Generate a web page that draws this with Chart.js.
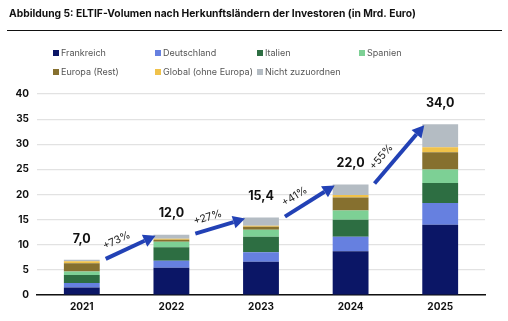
<!DOCTYPE html>
<html lang="de">
<head>
<meta charset="utf-8">
<title>ELTIF-Volumen nach Herkunftsländern</title>
<script src="https://cdn.jsdelivr.net/npm/chart.js@4.4.1/dist/chart.umd.min.js"></script>
<style>
  html, body { margin: 0; padding: 0; background: #fff; }
  #wrap { position: relative; width: 508px; height: 321px; }
  canvas { display: block; }
</style>
</head>
<body>
<div id="wrap"><canvas id="c" width="508" height="321"></canvas></div>
<script>
// Jahre und Volumen je Herkunftsland (Mrd. Euro)
const years = ['2021', '2022', '2023', '2024', '2025'];
const frankreich = [1.5, 5.4, 6.6, 8.7, 14.0];
const deutschland = [0.9, 1.4, 1.9, 2.9, 4.3];
const italien = [1.6, 2.7, 3.1, 3.4, 4.0];
const spanien = [0.7, 1.1, 1.4, 1.8, 2.7];
const europaRest = [1.6, 0.4, 0.6, 2.6, 3.4];
const globalOhneEuropa = [0.4, 0.2, 0.2, 0.5, 1.0];
const nichtZuzuordnen = [0.3, 0.8, 1.6, 2.1, 4.6];

// Summen über den Balken und Wachstum zum Vorjahr
const totals = [7.0, 12.0, 15.4, 22.0, 34.0];
const growthLabels = ['+73%', '+27%', '+41%', '+55%'];

const yTicks = [0, 5, 10, 15, 20, 25, 30, 35, 40];

const seriesNames = ['Frankreich', 'Deutschland', 'Italien', 'Spanien',
  'Europa (Rest)', 'Global (ohne Europa)', 'Nicht zuzuordnen'];
const seriesValues = [frankreich, deutschland, italien, spanien,
  europaRest, globalOhneEuropa, nichtZuzuordnen];
const seriesColors = ['#0b1666', '#6680e0', '#2d6e42', '#7dd095',
  '#86702f', '#f0c24a', '#b4bcc3'];

const FONT = 'Inter, "Liberation Sans", Arial, sans-serif';

const datasets = seriesNames.map((name, i) => ({
  label: name,
  data: seriesValues[i],
  backgroundColor: seriesColors[i],
  borderWidth: 0,
  barPercentage: 0.4,
  categoryPercentage: 1.0
}));

// Titel, Trennlinie und Legende im Raster
const headerPlugin = {
  id: 'header',
  afterDraw(chart) {
    const ctx = chart.ctx;
    ctx.save();
    ctx.fillStyle = '#111';
    ctx.font = 'bold 10.3px ' + FONT;
    ctx.textBaseline = 'middle';
    ctx.textAlign = 'left';
    ctx.fillText('Abbildung 5: ELTIF-Volumen nach Herkunftsländern der Investoren (in Mrd. Euro)', 9, 14);
    ctx.strokeStyle = '#111';
    ctx.lineWidth = 1;
    ctx.beginPath();
    ctx.moveTo(7, 30.5);
    ctx.lineTo(502, 30.5);
    ctx.stroke();

    ctx.font = '9px ' + FONT;
    const cols = [53, 155, 257, 359];
    const rows = [53, 72];
    seriesNames.forEach((name, i) => {
      const x = cols[i % 4];
      const y = rows[Math.floor(i / 4)];
      ctx.fillStyle = seriesColors[i];
      ctx.fillRect(x, y - 3, 6, 6);
      ctx.fillStyle = '#555';
      ctx.fillText(name, x + 8, y + 0.5);
    });
    ctx.restore();
  }
};

// Summenwerte und Wachstumspfeile zwischen den Balken
const annotationPlugin = {
  id: 'annotations',
  afterDatasetsDraw(chart) {
    const ctx = chart.ctx;
    const xs = chart.scales.x;
    const ys = chart.scales.y;
    const meta = chart.getDatasetMeta(0);
    const barW = meta.data[0].width;
    ctx.save();

    ctx.fillStyle = '#111';
    ctx.font = 'bold 12.5px ' + FONT;
    ctx.textAlign = 'center';
    ctx.textBaseline = 'middle';
    totals.forEach((t, i) => {
      const x = xs.getPixelForValue(i);
      const y = ys.getPixelForValue(t) - 21;
      ctx.fillText(t.toFixed(1).replace('.', ','), x, y);
    });

    const blue = '#2241b5';
    for (let i = 0; i < totals.length - 1; i++) {
      const x0 = xs.getPixelForValue(i) + barW / 2 + 6;
      const y0 = ys.getPixelForValue(totals[i]) - 1;
      const x1 = xs.getPixelForValue(i + 1) - barW / 2 + 2;
      const y1 = ys.getPixelForValue(totals[i + 1]) + 1;
      const ang = Math.atan2(y1 - y0, x1 - x0);
      const head = 12;
      const half = 6.5;
      const bx = x1 - head * Math.cos(ang);
      const by = y1 - head * Math.sin(ang);

      ctx.strokeStyle = blue;
      ctx.lineWidth = 4;
      ctx.lineCap = 'butt';
      ctx.beginPath();
      ctx.moveTo(x0, y0);
      ctx.lineTo(bx, by);
      ctx.stroke();

      ctx.fillStyle = blue;
      ctx.beginPath();
      ctx.moveTo(x1, y1);
      ctx.lineTo(bx + half * Math.sin(ang), by - half * Math.cos(ang));
      ctx.lineTo(bx - half * Math.sin(ang), by + half * Math.cos(ang));
      ctx.closePath();
      ctx.fill();

      // Prozentangabe entlang des Pfeils
      const t = 0.32;
      const px = x0 + (x1 - x0) * t + 12 * Math.sin(ang);
      const py = y0 + (y1 - y0) * t - 12 * Math.cos(ang);
      ctx.save();
      ctx.translate(px, py);
      ctx.rotate(ang);
      ctx.fillStyle = '#222';
      ctx.font = '10.5px ' + FONT;
      ctx.textAlign = 'center';
      ctx.textBaseline = 'middle';
      ctx.fillText(growthLabels[i], 0, 0);
      ctx.restore();
    }
    ctx.restore();
  }
};

new Chart(document.getElementById('c'), {
  type: 'bar',
  data: { labels: years, datasets },
  options: {
    responsive: false,
    animation: false,
    layout: { padding: { top: 94, right: 23, bottom: 0, left: 0 } },
    plugins: {
      legend: { display: false },
      title: { display: false },
      tooltip: { enabled: false }
    },
    scales: {
      x: {
        stacked: true,
        grid: { display: false, drawTicks: false },
        border: { display: true, color: '#111', width: 1.5 },
        ticks: { color: '#111', font: { family: FONT, size: 10, weight: 'bold' }, padding: 6 },
        afterFit(scale) { scale.height = 26; }
      },
      y: {
        stacked: true,
        min: 0,
        max: 40,
        afterBuildTicks(scale) { scale.ticks = yTicks.map(v => ({ value: v })); },
        grid: { color: '#e2e2e2', lineWidth: 1.2, drawTicks: false },
        border: { display: false },
        ticks: { color: '#111', font: { family: FONT, size: 10, weight: 'bold' }, padding: 8 },
        afterFit(scale) { scale.width = 37; }
      }
    }
  },
  plugins: [headerPlugin, annotationPlugin]
});
</script>
</body>
</html>
